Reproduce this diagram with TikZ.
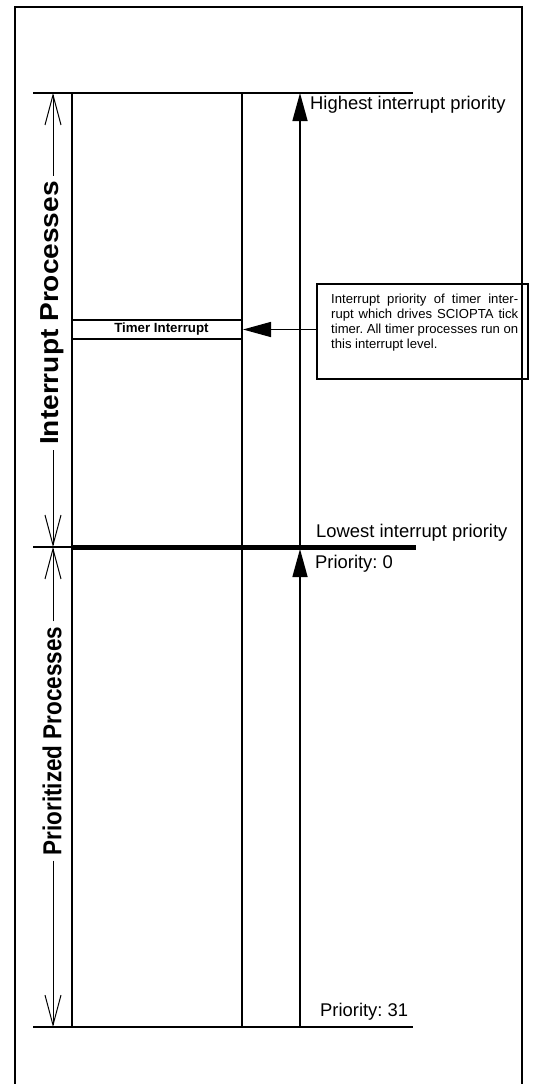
\documentclass[tikz,border=0pt]{standalone}
\usepackage{fontspec}
\setmainfont{Liberation Sans}
\usetikzlibrary{arrows.meta}
\frenchspacing
\begin{document}
\begin{tikzpicture}[x=1pt,y=-1pt,
  frame/.style={line width=2pt},
  thinline/.style={line width=1.5pt},
  dimline/.style={line width=1pt,-{Straight Barb[length=30pt,width=16pt,line width=1pt]}},
  triarrow/.style={line width=1.5pt,-{Triangle[length=28pt,width=15pt]}},
  lbl/.style={font=\fontsize{18.4}{22}\selectfont,inner sep=0pt,anchor=west},
  sidelbl/.style={font=\fontsize{26}{30}\selectfont\bfseries,rotate=90,inner sep=5pt},
  notebox/.style={draw,line width=2pt,minimum width=211pt,minimum height=95pt,anchor=north west,inner sep=0pt}
]
\useasboundingbox (0,0) rectangle (544,1084);
% outer frame
\draw[frame] (15,1090) -- (15,7) -- (522,7) -- (522,1090);
% coordinates
\coordinate (topL) at (33,93);
\coordinate (topR) at (413,93);
\coordinate (botL) at (33,1027);
\coordinate (botR) at (413,1027);
\coordinate (midL) at (33,547);
\coordinate (midA) at (72,547);
\coordinate (midR) at (416,547);
\coordinate (c1t) at (72,93);
\coordinate (c1b) at (72,1027);
\coordinate (c2t) at (242,93);
\coordinate (c2b) at (242,1027);
\coordinate (atop) at (300,93);
\coordinate (amid) at (300,547);
\coordinate (amid2) at (300,549);
\coordinate (abot) at (300,1027);
\coordinate (dtop) at (53,93);
\coordinate (dmid) at (53,547);
\coordinate (dbot) at (53,1027);
% grid lines
\draw[thinline] (topL) -- (topR);
\draw[thinline] (botL) -- (botR);
\draw[thinline] (c1t) -- (c1b);
\draw[thinline] (c2t) -- (c2b);
\draw[thinline] (midL) -- (midA);
\draw[line width=5pt] (midA) -- (midR);
% priority arrows
\draw[triarrow] (amid) -- (atop);
\draw[triarrow] (abot) -- (amid2);
% timer interrupt
\coordinate (t1l) at (72,320);
\coordinate (t1r) at (242,320);
\coordinate (t2l) at (72,339);
\coordinate (t2r) at (242,339);
\draw[thinline] (t1l) -- (t1r);
\draw[thinline] (t2l) -- (t2r);
\node[font=\bfseries\fontsize{13.3}{15}\selectfont,inner sep=0pt] (timer) at (161.5,329.5) {Timer Interrupt};
\node[notebox] (note) at (316,283) {};
\node[anchor=north west,inner sep=0pt,align=left,font=\fontsize{13.1}{14.8}\selectfont] (notetext) at (331,294)
  {\makebox[187pt][s]{Interrupt priority of timer inter-}\\
   \makebox[187pt][s]{rupt which drives SCIOPTA tick}\\
   \makebox[187pt][s]{timer. All timer processes run on}\\
   this interrupt level.};
\coordinate (ttip) at (243,329.5);
\draw[triarrow] (note.west |- ttip) -- (ttip);
% labels
\node[lbl] (hi) at (310,105) {Highest interrupt priority};
\node[lbl] (lo) at (316,533) {Lowest interrupt priority};
\node[lbl] (p0) at (315,564) {Priority: 0};
\node[lbl] (p31) at (320,1012) {Priority: 31};
% side dimension labels
\node[sidelbl] (ip) at (52,313) {\scalebox{1.08}[1]{Interrupt Processes}};
\node[sidelbl] (pp) at (52,741) {\scalebox{0.865}[1]{Prioritized Processes}};
\draw[dimline] (ip.east -| dtop) -- (dtop);
\draw[dimline] (ip.west -| dtop) -- (dmid);
\draw[dimline] (pp.east -| dtop) -- (dmid);
\draw[dimline] (pp.west -| dtop) -- (dbot);
\end{tikzpicture}
\end{document}
